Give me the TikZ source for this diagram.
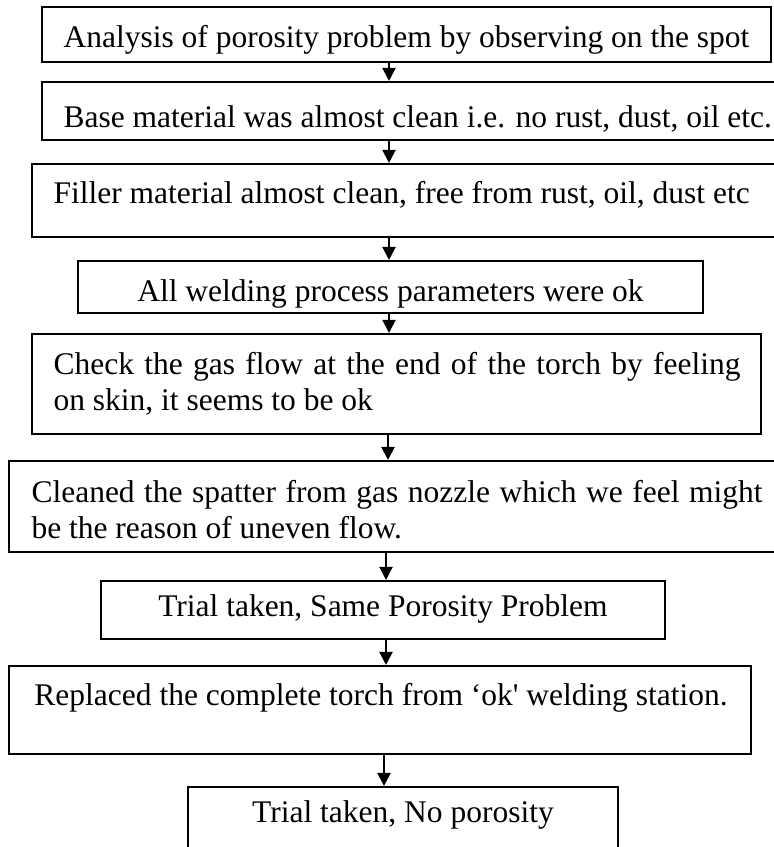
\documentclass[tikz,border=0pt]{standalone}
\usepackage{fontspec}
\setmainfont{Liberation Serif}[Ligatures={TeXOff,CommonOff}]
\usetikzlibrary{arrows.meta,fit}
\newdimen\pxu \pxu=0.381pt
\tikzset{
	box/.style={draw=black, line width=0.8pt, inner sep=0pt},
	txt/.style={inner sep=0pt, font=\fontsize{12}{14}\selectfont},
	arr/.style={line width=0.8pt, -{Triangle[length=5pt,width=5pt]}}
}

\begin{document}
\begin{tikzpicture}[x=\pxu, y=-\pxu]
	%%%%% START %%%%%
	
	\useasboundingbox (0,0) rectangle (774,847);
	\clip (0,0) rectangle (774,847);
	
	\node[box, fit={(42,7) (771,62)}] (b1) {};
	\node[box, fit={(42,82) (790,140)}] (b2) {};
	\node[box, fit={(32,164) (790,237)}] (b3) {};
	\node[box, fit={(78,261) (703,313)}] (b4) {};
	\node[box, fit={(32,334) (761,434)}] (b5) {};
	\node[box, fit={(9,461) (790,552)}] (b6) {};
	\node[box, fit={(101,581) (665,639)}] (b7) {};
	\node[box, fit={(9,666) (751,754)}] (b8) {};
	\node[box, fit={(188,787) (618,870)}] (b9) {};
	
	\node[txt, anchor=base] (t1) at (406.5,47) {Analysis of porosity problem by observing on the spot};
	\node[txt, anchor=base west] (t2) at (63,127) {Base material was almost clean i.e. no rust, dust, oil etc.};
	\node[txt, anchor=base west] (t3) at (53,203) {Filler material almost clean, free from rust, oil, dust etc};
	\node[txt, anchor=base] (t4) at (390.5,301) {All welding process parameters were ok};
	\node[txt, anchor=base west, text width=687\pxu, align=justify] (t5) at (53,374)
		{Check the gas flow at the end of the torch by feeling\linebreak on skin, it seems to be ok};
	\node[txt, anchor=base west, text width=731\pxu, align=justify] (t6) at (31,502)
		{Cleaned the spatter from gas nozzle which we feel might\linebreak be the reason of uneven flow.};
	\node[txt, anchor=base] (t7) at (383,616) {Trial taken, Same Porosity Problem};
	\node[txt, anchor=base] (t8) at (381,705) {Replaced the complete torch from ‘ok' welding station.};
	\node[txt, anchor=base] (t9) at (403,822) {Trial taken, No porosity};
	
	\foreach \a/\b/\x in {b1/b2/389, b2/b3/389, b3/b4/389, b4/b5/389, b5/b6/388, b6/b7/386, b7/b8/386, b8/b9/384}{
		\coordinate (ax) at (\x,0);
		\draw[arr] (\a.south -| ax) -- (\b.north -| ax);
	}
	
	%%%%% END %%%%%
\end{tikzpicture}
\end{document}
